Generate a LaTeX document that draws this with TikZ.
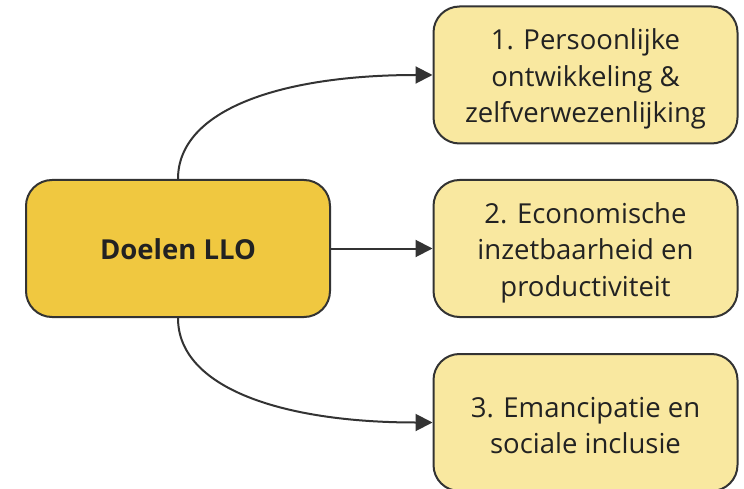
\documentclass[tikz,border=0pt]{standalone}
\usepackage{fontspec}
\setmainfont{Open Sans}
\usetikzlibrary{arrows.meta}
\definecolor{mainfill}{RGB}{240,200,64}
\definecolor{subfill}{RGB}{249,232,160}
\definecolor{linec}{RGB}{51,51,51}
\definecolor{textc}{RGB}{34,34,34}
\begin{document}
\begin{tikzpicture}[x=1pt,y=-1pt,
  box/.style={draw=linec, line width=2pt, rounded corners=26pt,
    minimum width=304pt, minimum height=137pt, inner sep=0pt},
  mainbox/.style={box, fill=mainfill},
  subbox/.style={box, fill=subfill},
  boxtext/.style={align=center, text=textc, inner sep=0pt,
    font=\fontsize{27.5pt}{36.5pt}\selectfont},
  maintext/.style={boxtext, font=\fontsize{27.5pt}{36.5pt}\selectfont\bfseries},
  conn/.style={draw=linec, line width=2pt, -{Triangle[length=17pt,width=17pt]}}]
\useasboundingbox (0,0) rectangle (744,489);
\node[mainbox] (main) at (178,248.5) {};
\node[subbox] (g1) at (585.5,75) {};
\node[subbox] (g2) at (585.5,248.5) {};
\node[subbox] (g3) at (585.5,422.5) {};
\node[maintext] (mt) at ([yshift=-1pt]main.center) {Doelen LLO};
\node[boxtext] (t1) at ([yshift=-4pt]g1.center) {1. Persoonlijke\\ontwikkeling \&\\zelfverwezenlijking};
\node[boxtext] (t2) at ([yshift=-4pt]g2.center) {2. Economische\\inzetbaarheid en\\productiviteit};
\node[boxtext] (t3) at ([yshift=-3pt]g3.center) {3. Emancipatie en\\sociale inclusie};
\path[conn] (main.north) .. controls +(0,-70) and +(-150,0) .. (g1.west);
\path[conn] (main.east) -- (g2.west);
\path[conn] (main.south) .. controls +(0,70) and +(-150,0) .. (g3.west);
\end{tikzpicture}
\end{document}
